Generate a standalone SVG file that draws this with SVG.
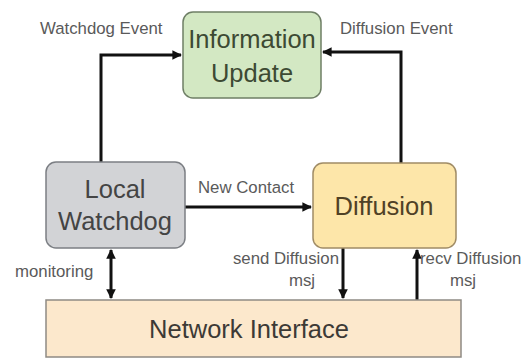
<svg xmlns="http://www.w3.org/2000/svg" width="529" height="358" viewBox="0 0 529 358">
<defs>
<marker id="ah" viewBox="0 0 10 10" refX="9" refY="5" markerWidth="3.2" markerHeight="3.2" orient="auto-start-reverse" markerUnits="strokeWidth">
<path d="M0,0 L10,5 L0,10 z" fill="#111"/>
</marker>
<style>
.box{stroke-width:1.5}
.bt{font-family:"Liberation Sans",Arial,sans-serif;font-size:25.5px;text-anchor:middle}
.lb{font-family:"Liberation Sans",Arial,sans-serif;font-size:16.8px;fill:#5a5a5a}
.c{fill:none;stroke:#111;stroke-width:3}
</style>
</defs>
<rect width="529" height="358" fill="#fff"/>
<g id="connectors">
<path class="c" d="M101,162 V55 H181" marker-end="url(#ah)"/>
<path class="c" d="M401,163 V52 H323" marker-end="url(#ah)"/>
<path class="c" d="M185,207 H311" marker-end="url(#ah)"/>
<path class="c" d="M111,250 V298" marker-start="url(#ah)" marker-end="url(#ah)"/>
<path class="c" d="M343,248 V298" marker-end="url(#ah)"/>
<path class="c" d="M417,300 V250" marker-end="url(#ah)"/>
<text class="lb" x="40" y="34">Watchdog Event</text>
<text class="lb" x="340" y="34">Diffusion Event</text>
<text class="lb" x="198" y="193">New Contact</text>
<text class="lb" x="15" y="277">monitoring</text>
<text class="lb" x="339" y="264" text-anchor="end">send Diffusion</text>
<text class="lb" x="302" y="286" text-anchor="middle">msj</text>
<text class="lb" x="420" y="264">recv Diffusion</text>
<text class="lb" x="463" y="286" text-anchor="middle">msj</text>
</g>
<g id="info-update">
<rect class="box" x="183" y="12" width="138" height="86" rx="10" fill="#d3e8c3" stroke="#6f7f66"/>
<text class="bt" x="252" y="48" fill="#3d4a33">Information</text>
<text class="bt" x="252" y="82" fill="#3d4a33">Update</text>
</g>
<g id="local-watchdog">
<rect class="box" x="46" y="162" width="139" height="86" rx="10" fill="#d2d3d6" stroke="#7c7f84"/>
<text class="bt" x="115" y="198" fill="#444">Local</text>
<text class="bt" x="115" y="230" fill="#444">Watchdog</text>
</g>
<g id="diffusion">
<rect class="box" x="313" y="163" width="143" height="85" rx="10" fill="#fde6a9" stroke="#a08c66"/>
<text class="bt" x="384" y="215" fill="#4f4126">Diffusion</text>
</g>
<g id="network-interface">
<rect class="box" x="46" y="300" width="415" height="57" fill="#fce8cc" stroke="#8f8a84"/>
<text class="bt" x="249" y="338" fill="#3c3a36">Network Interface</text>
</g>
</svg>
